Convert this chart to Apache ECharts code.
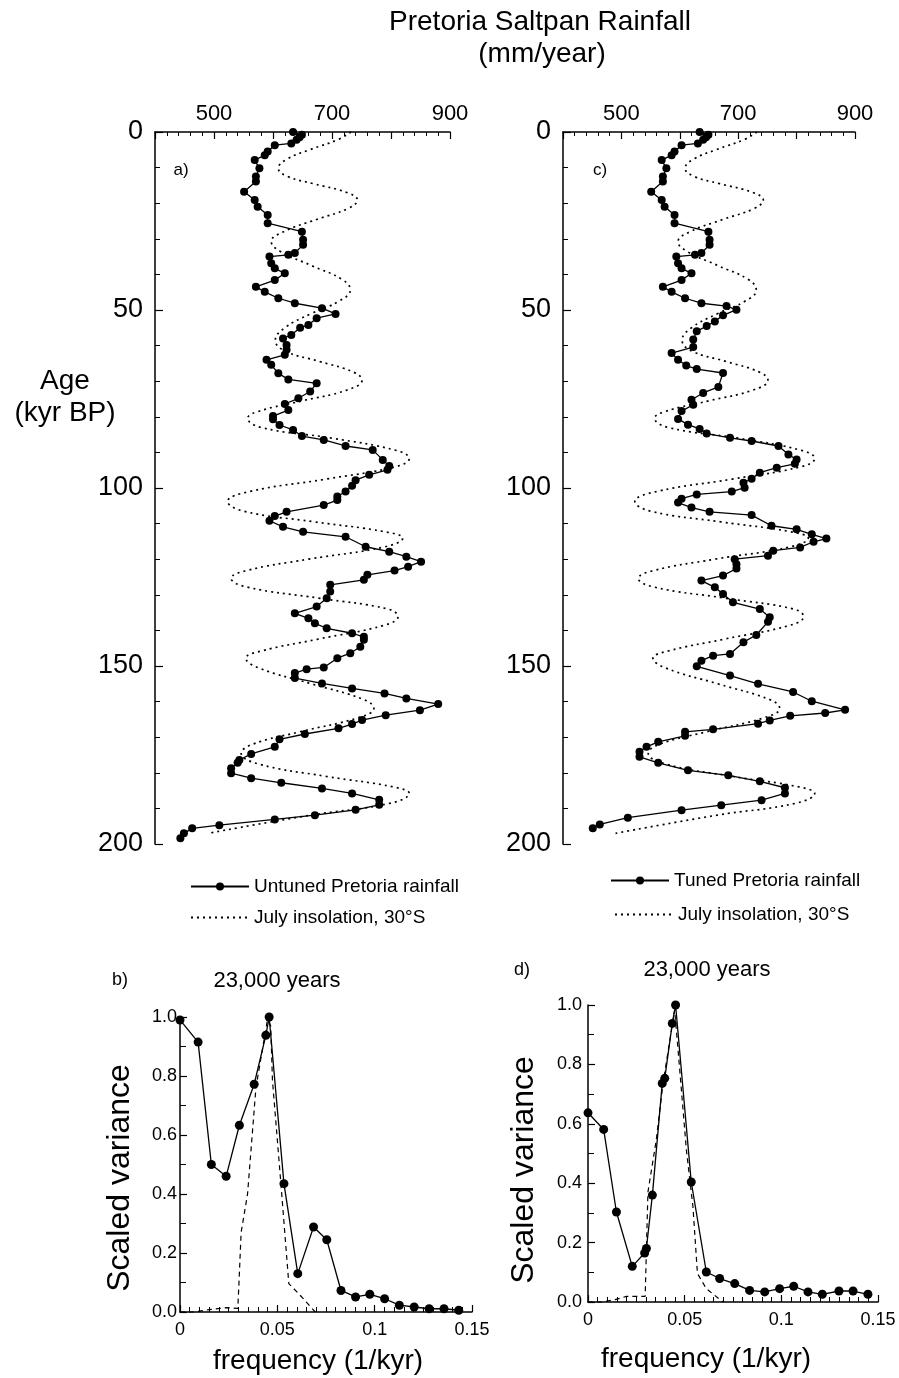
<!DOCTYPE html>
<html>
<head>
<meta charset="utf-8">
<title>Pretoria Saltpan Rainfall</title>
<script src="https://cdn.jsdelivr.net/npm/echarts@6/dist/echarts.min.js"></script>
<style>
html,body{margin:0;padding:0;background:#fff;}
#main{width:899px;height:1378px;}
</style>
</head>
<body>
<div id="main"></div>
<script>
// [age kyr BP, mm/year]
var insolation = [
	[0,732],[2,712],[5,662],[7.5,625],[10.2,609],[12.5,625],[14.5,668],[17,725],[19.1,743],[21.5,727],
	[24.5,675],[28,618],[30.8,597],[33.5,612],[37.5,665],[41.5,718],[44.4,731],[47.5,712],[51,665],[55,620],
	[58.5,604],[61.5,620],[64.5,680],[67.5,737],[69.7,751],[72.5,725],[75.5,650],[78.5,575],[80.4,557],[83,580],
	[86,700],[89.5,810],[91.7,831],[94,808],[97.5,690],[101,560],[103.8,523],[106.5,550],[109.5,670],[112.3,790],
	[114.1,820],[116.5,790],[120,660],[123.2,555],[125.4,529],[127.8,555],[131,680],[134,795],[136.1,812],[138.5,790],
	[142.5,675],[145.8,580],[147.8,554],[150.5,575],[155,665],[159.5,755],[161.9,771],[164.5,745],[168.5,645],[172,565],
	[174.5,546],[177.5,575],[181,690],[184,805],[185.8,831],[188.5,800],[192,660],[197,490]
];
var untuned = [
	[0,634],[0.8,649],[1.5,645],[2.2,640],[3.2,631],[3.7,603],[5.5,591],[6.5,586],[7.9,569],[10.2,577],
	[12.5,571],[13.9,571],[16.8,551],[19.1,569],[21,574],[23.3,591],[25.6,591],[28,649],[30.3,651],[31.7,651],
	[34,637],[34.5,626],[35,594],[36.9,597],[38.3,603],[39.7,620],[41.6,603],[43.5,571],[44.9,586],[46.7,609],
	[48.1,637],[49.5,683],[51.1,706],[52.3,674],[54.2,660],[55,646],[57,631],[58,617],[59.8,623],[61.2,623],
	[62.6,620],[64,589],[65.4,597],[67.8,609],[69.5,626],[70.6,674],[72.9,663],[74.8,643],[76.4,620],[78.1,626],
	[79.8,600],[80.7,600],[82.3,611],[83.7,634],[85.4,649],[86.5,686],[88.2,723],[89.3,769],[92.1,786],[93.8,797],
	[94.9,794],[96.3,763],[97.8,740],[99.4,734],[101,723],[102.4,709],[103.4,709],[104.8,686],[106.7,623],[107.9,603],
	[109.2,594],[110.9,617],[112.3,651],[113.7,723],[116.5,757],[117.9,797],[119.3,826],[120.7,851],[122.1,829],[123.2,806],
	[124.4,760],[125.8,754],[127.2,697],[129.1,697],[131,691],[133.3,674],[135.2,637],[136.6,660],[138,671],[139.4,691],
	[140.8,734],[141.8,754],[142.6,754],[144.6,748],[146.4,731],[147.8,709],[150.4,686],[150.9,657],[152,637],[153.4,637],
	[154.9,683],[156.3,734],[157.7,789],[159.1,826],[160.7,880],[162.4,849],[163.8,791],[165.2,751],[166.3,734],[167.5,711],
	[169.1,654],[170.6,611],[172.7,603],[174.7,563],[176.4,543],[177.2,540],[178.7,529],[180.1,529],[181.5,563],[182.8,614],
	[184.4,683],[185.8,734],[187.6,780],[189,780],[190.4,740],[191.9,671],[193.1,603],[194.7,509],[195.6,463],[197,449],
	[198.4,443]
];
var tuned = [
	[0,634],[0.8,649],[1.5,645],[2.2,640],[3.2,631],[3.7,603],[5.5,591],[6.5,586],[7.9,569],[10.2,577],
	[12.5,571],[13.9,571],[16.8,551],[19.1,569],[21,574],[23.3,591],[25.6,591],[28,649],[30.3,651],[31.7,651],
	[34,637],[34.5,626],[35,594],[36.9,597],[38.3,603],[39.7,620],[41.6,603],[43.5,571],[44.9,586],[46.7,609],
	[48.1,637],[48.9,680],[49.9,697],[51.5,674],[53.2,660],[54.5,646],[56,629],[58.3,623],[60.4,623],[62.1,586],
	[64,597],[65.6,611],[66.6,629],[67.7,674],[71.6,666],[73.3,640],[75.2,620],[76.6,623],[78.4,603],[80.6,597],
	[82.2,614],[83.4,634],[84.7,646],[85.9,686],[86.8,723],[88.2,769],[90.6,786],[92,800],[93.2,797],[94.3,766],
	[95.7,737],[97.4,723],[98.5,709],[99.9,711],[101,689],[101.8,629],[103,603],[104.1,597],[105.5,620],[106.7,651],
	[107.6,723],[110.6,757],[111.6,800],[113,826],[114.2,851],[115.1,829],[116.7,806],[117.6,760],[119,751],[120,694],
	[121.4,697],[122.6,697],[124.6,674],[126,637],[127.9,660],[129.8,674],[132.1,691],[134,737],[136.3,754],[137.6,751],
	[141.3,731],[143.3,709],[146.6,686],[147.1,657],[148.5,637],[150.1,629],[152.7,686],[155,734],[157.3,794],[159.9,826],
	[162.3,883],[163.2,849],[164,789],[165.3,754],[166.2,734],[167.8,657],[168.5,609],[169.6,609],[171.3,563],[172.7,543],
	[174.1,531],[175.5,531],[177.2,563],[179.3,614],[180.7,683],[182.4,737],[184.2,780],[185.8,780],[187.7,740],[189.1,671],
	[190.5,603],[192.6,511],[194.5,463],[195.6,451]
];
// [frequency 1/kyr, scaled variance]
var specUntuned = [
	[0,0.99],[0.0093,0.915],[0.0161,0.50],[0.0237,0.46],[0.0305,0.633],[0.0381,0.772],[0.0441,0.938],[0.0458,1.0],
	[0.0534,0.435],[0.0605,0.13],[0.0686,0.288],[0.0754,0.245],[0.0827,0.073],[0.0902,0.051],[0.0975,0.06],
	[0.1051,0.045],[0.1127,0.023],[0.1203,0.017],[0.128,0.011],[0.1356,0.011],[0.1432,0.006]
];
var specInsolB = [
	[0,0],[0.007,0],[0.015,0.008],[0.024,0.015],[0.0297,0.012],[0.0303,0.1],[0.0314,0.27],[0.0347,0.40],
	[0.039,0.76],[0.0449,0.99],[0.0466,0.97],[0.0475,0.785],[0.0517,0.446],[0.0559,0.096],[0.061,0.062],[0.0695,0]
];
var specTuned = [
	[0,0.637],[0.0081,0.581],[0.0147,0.303],[0.0229,0.12],[0.0293,0.165],[0.0302,0.18],[0.0333,0.36],[0.0384,0.736],
	[0.0397,0.753],[0.0436,0.938],[0.0453,1.0],[0.0534,0.404],[0.0612,0.101],[0.0681,0.079],[0.0759,0.062],
	[0.0836,0.039],[0.0914,0.034],[0.0991,0.045],[0.1064,0.053],[0.1138,0.034],[0.1212,0.026],[0.1298,0.037],
	[0.1371,0.037],[0.1448,0.026]
];
var specInsolD = [
	[0,0],[0.007,0],[0.014,0.008],[0.02,0.019],[0.0296,0.019],[0.0297,0.05],[0.031,0.37],[0.0353,0.545],
	[0.0388,0.736],[0.0448,0.983],[0.0466,0.848],[0.0509,0.511],[0.0543,0.32],[0.0566,0.096],[0.0612,0.045],[0.0698,0]
];
var rainTicks = [500, 700, 900];

var FONT = '"Liberation Sans", Arial, Helvetica, sans-serif';
var INSOL = 'July insolation, 30°S';

var flip = function(arr){
	return arr.map(function(p){ return [p[1], p[0]]; });
};

var axisBase = function(gi, fs, margin){
	return {
		gridIndex: gi,
		type: 'value',
		axisLine: {show: true, onZero: false, lineStyle: {color: '#000', width: 1.5}},
		axisTick: {show: true, inside: true, length: 7, lineStyle: {color: '#000', width: 1.2}},
		minorTick: {show: true, length: 4, lineStyle: {color: '#000', width: 1}},
		axisLabel: {color: '#000', fontSize: fs, fontFamily: FONT, margin: margin},
		splitLine: {show: false},
		minorSplitLine: {show: false}
	};
};

var rainAxis = function(gi){
	var a = axisBase(gi, 22, 7);
	a.position = 'top';
	a.min = 400; a.max = 900; a.interval = 100;
	a.minorTick.splitNumber = 5;
	a.axisLabel.formatter = function(v){ return rainTicks.indexOf(v) >= 0 ? String(v) : ''; };
	return a;
};
var ageAxis = function(gi){
	var a = axisBase(gi, 27, 12);
	a.inverse = true;
	a.min = 0; a.max = 200; a.interval = 50;
	a.axisTick.length = 8;
	a.minorTick.splitNumber = 5;
	a.minorTick.length = 5;
	return a;
};
var freqAxis = function(gi){
	var a = axisBase(gi, 18, 9);
	a.position = 'bottom';
	a.min = 0; a.max = 0.15; a.interval = 0.05;
	a.minorTick.splitNumber = 10;
	a.minorTick.length = 5;
	return a;
};
var varAxis = function(gi, margin){
	var a = axisBase(gi, 18, margin);
	a.min = 0; a.max = 1; a.interval = 0.2;
	a.minorTick.splitNumber = 2;
	a.minorTick.length = 6;
	a.axisLabel.formatter = function(v){ return v.toFixed(1); };
	return a;
};

var insolSeries = function(gi){
	return {
		name: INSOL, type: 'line', xAxisIndex: gi, yAxisIndex: gi,
		data: flip(insolation), smooth: 0.45, showSymbol: false, symbol: 'none', clip: false,
		lineStyle: {color: '#000', width: 1.7, type: [2, 4]}, z: 2
	};
};
var rainSeries = function(gi, name, arr){
	return {
		name: name, type: 'line', xAxisIndex: gi, yAxisIndex: gi,
		data: flip(arr), symbol: 'circle', symbolSize: 8, clip: false,
		itemStyle: {color: '#000'}, lineStyle: {color: '#000', width: 1.3}, z: 3
	};
};
var specSeries = function(gi, arr, dashed){
	var s = {
		type: 'line', xAxisIndex: gi, yAxisIndex: gi, data: arr, clip: false,
		itemStyle: {color: '#000'}, lineStyle: {color: '#000', width: 1.3}, z: 3
	};
	if (dashed) {
		s.showSymbol = false; s.symbol = 'none';
		s.lineStyle = {color: '#000', width: 1.2, type: [5, 4]};
		s.z = 2;
	} else {
		s.symbol = 'circle'; s.symbolSize = 9;
	}
	return s;
};

var txt = function(text, x, y, size, rot){
	return {
		type: 'text', x: x, y: y, rotation: rot || 0, silent: true,
		style: {
			text: text, x: 0, y: 0, fill: '#000',
			font: size + 'px ' + FONT,
			align: 'center', verticalAlign: 'middle',
			textAlign: 'center', textVerticalAlign: 'middle'
		}
	};
};

var legendItem = function(left, top, item){
	return {
		left: left, top: top, padding: 0, itemWidth: 58, itemHeight: 10,
		selectedMode: false, data: [item],
		textStyle: {color: '#000', fontSize: 19, fontFamily: FONT}
	};
};

var chart = echarts.init(document.getElementById('main'));
var option = {
	animation: false,
	backgroundColor: '#fff',
	textStyle: {fontFamily: FONT},
	grid: [
		{left: 155, top: 132, width: 295, height: 712},
		{left: 563, top: 132, width: 292, height: 712},
		{left: 180, top: 1017, width: 292, height: 295},
		{left: 588, top: 1005, width: 290, height: 297}
	],
	xAxis: [rainAxis(0), rainAxis(1), freqAxis(2), freqAxis(3)],
	yAxis: [ageAxis(0), ageAxis(1), varAxis(2, 3), varAxis(3, 6)],
	legend: [
		legendItem(190, 877, 'Untuned Pretoria rainfall'),
		legendItem(190, 908, {name: INSOL, itemStyle: {opacity: 0}}),
		legendItem(610, 871, 'Tuned Pretoria rainfall'),
		legendItem(614, 905, {name: INSOL, itemStyle: {opacity: 0}})
	],
	series: [
		insolSeries(0),
		rainSeries(0, 'Untuned Pretoria rainfall', untuned),
		insolSeries(1),
		rainSeries(1, 'Tuned Pretoria rainfall', tuned),
		specSeries(2, specInsolB, true),
		specSeries(2, specUntuned, false),
		specSeries(3, specInsolD, true),
		specSeries(3, specTuned, false)
	],
	graphic: [
		txt('Pretoria Saltpan Rainfall', 540, 22, 28),
		txt('(mm/year)', 542, 54, 28),
		txt('Age', 65, 381, 28),
		txt('(kyr BP)', 65, 413, 28),
		txt('a)', 181, 170, 17),
		txt('c)', 600, 170, 17),
		txt('b)', 120, 980, 18),
		txt('23,000 years', 277, 981, 22),
		txt('d)', 522, 970, 18),
		txt('23,000 years', 707, 970, 22),
		txt('Scaled variance', 120, 1178, 32, Math.PI / 2),
		txt('Scaled variance', 524, 1170, 32, Math.PI / 2),
		txt('frequency (1/kyr)', 318, 1361, 28),
		txt('frequency (1/kyr)', 706, 1359, 28)
	]
};
chart.setOption(option);
</script>
</body>
</html>
